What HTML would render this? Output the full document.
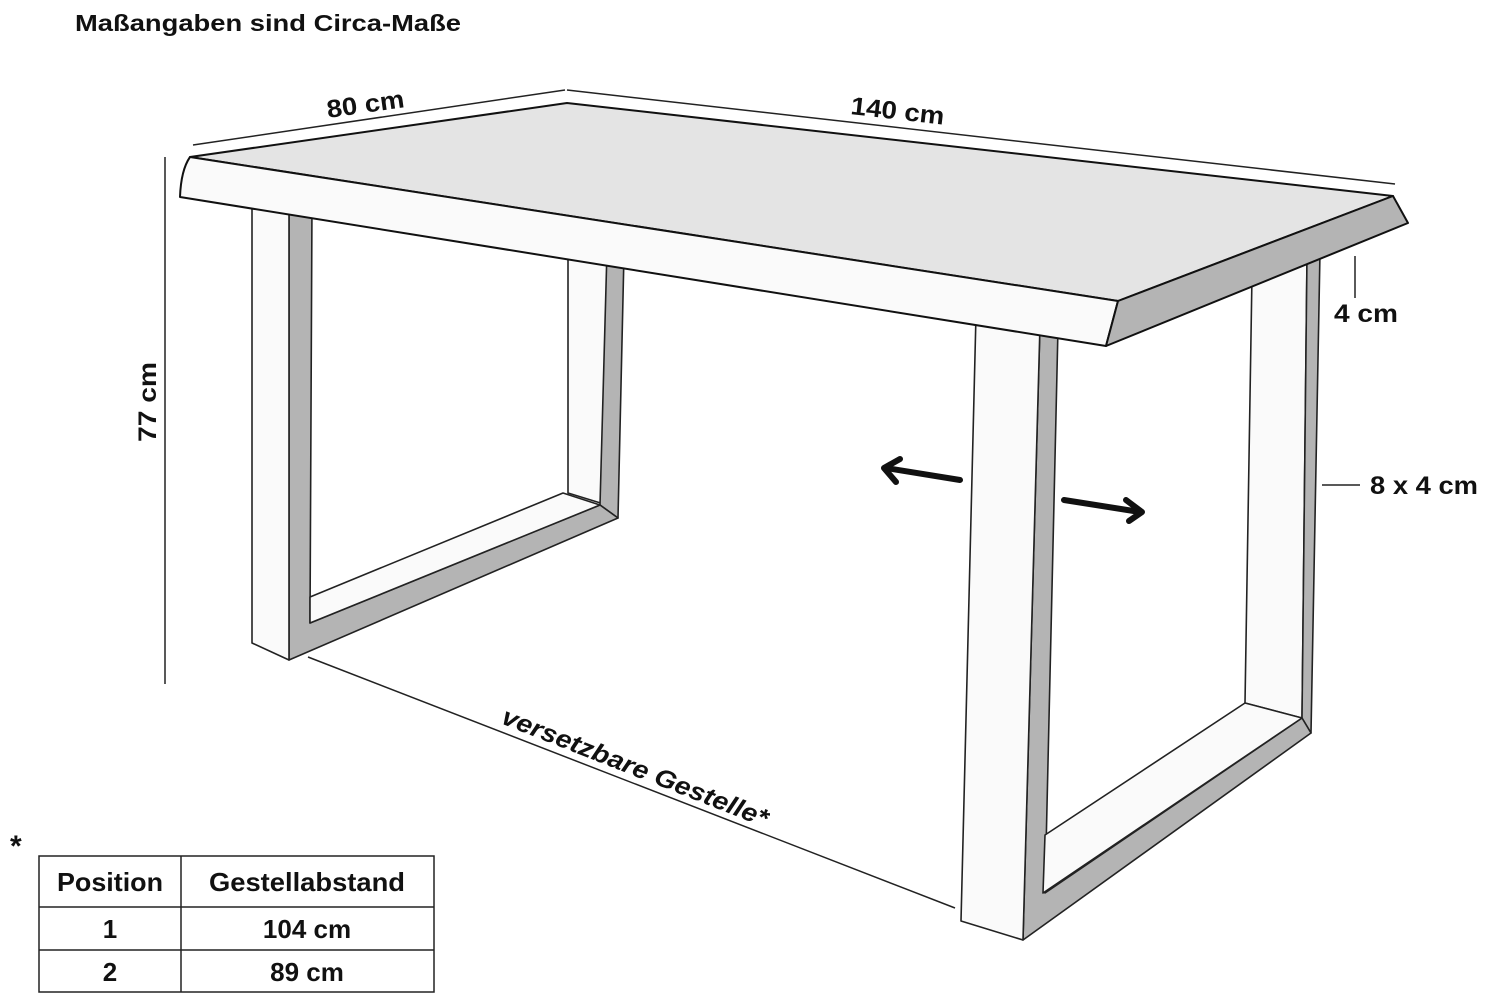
<!DOCTYPE html>
<html><head><meta charset="utf-8"><style>html,body{margin:0;padding:0;background:#fff}svg{display:block}</style></head>
<body>
<svg width="1489" height="1000" viewBox="0 0 1489 1000" xmlns="http://www.w3.org/2000/svg" font-family="Liberation Sans, sans-serif" font-weight="bold" fill="#111">
<rect width="1489" height="1000" fill="#fff"/>
<text x="75" y="31" font-size="23" textLength="386" lengthAdjust="spacingAndGlyphs">Maßangaben sind Circa-Maße</text>

<g stroke="#222" stroke-width="1.5" fill="none">
<line x1="193" y1="145" x2="565" y2="90"/>
<line x1="567" y1="90" x2="1395" y2="184"/>
<line x1="165" y1="157" x2="165" y2="684"/>
<line x1="1355" y1="256" x2="1355" y2="298"/>
<line x1="1322" y1="485" x2="1360" y2="485"/>
<line x1="308" y1="657" x2="955" y2="908"/>
</g>
<text transform="translate(328,118) rotate(-8)" font-size="25" textLength="78" lengthAdjust="spacingAndGlyphs">80 cm</text>
<text transform="translate(850,114) rotate(6.5)" font-size="25" textLength="94" lengthAdjust="spacingAndGlyphs">140 cm</text>
<text transform="translate(156,442) rotate(-90)" font-size="25" textLength="80" lengthAdjust="spacingAndGlyphs">77 cm</text>
<text x="1334" y="322" font-size="25" textLength="64" lengthAdjust="spacingAndGlyphs">4 cm</text>
<text x="1370" y="494" font-size="25" textLength="108" lengthAdjust="spacingAndGlyphs">8 x 4 cm</text>
<text transform="translate(500,723) rotate(21.5)" font-size="25" textLength="284" lengthAdjust="spacingAndGlyphs" font-style="italic">versetzbare Gestelle*</text>

<g stroke="#222" stroke-width="1.6" stroke-linejoin="round">
<polygon points="568,250 607,254 607,505 568,493" fill="#fafafa"/>
<polygon points="607,250 624,254 618,518 600,505" fill="#b4b4b4"/>
<polygon points="289,200 312,203 310,623 600,505 618,518 289,660" fill="#b4b4b4"/>
<polygon points="310,597 563,493 600,505 310,623" fill="#fafafa"/>
<polygon points="252,198 289,200 289,660 252,643" fill="#fafafa"/>
</g>

<g stroke="#222" stroke-width="1.6" stroke-linejoin="round">
<polygon points="1252,275 1307,258 1302,718 1245,703" fill="#fafafa"/>
<polygon points="1307,255 1320,252 1311,733 1302,718" fill="#b4b4b4"/>
<polygon points="1040,325 1058,328 1045,893 1302,718 1311,733 1023,940" fill="#b4b4b4"/>
<polygon points="1045,835 1245,703 1302,718 1043,893" fill="#fafafa"/>
<polygon points="976,315 1040,325 1023,940 961,921" fill="#fafafa"/>
</g>

<g stroke="#111" stroke-width="2" stroke-linejoin="round">
<polygon points="190,157 567,103 1393,196 1118,301" fill="#e4e4e4"/>
<path d="M190,157 L1118,301 L1106,346 L180,197 Q181,170 190,157 Z" fill="#fafafa"/>
<polygon points="1118,301 1393,196 1408,223 1106,346" fill="#b4b4b4"/>
</g>

<g stroke="#111" stroke-width="6" fill="none" stroke-linecap="round" stroke-linejoin="round">
<line x1="960" y1="480" x2="886" y2="468"/>
<polyline points="900,459 884,468 896,482"/>
<line x1="1064" y1="500" x2="1140" y2="512"/>
<polyline points="1126,500 1142,512 1129,521"/>
</g>

<text x="10" y="856" font-size="30">*</text>
<g stroke="#222" stroke-width="1.5" fill="none">
<rect x="39" y="856" width="395" height="136"/>
<line x1="39" y1="907" x2="434" y2="907"/>
<line x1="39" y1="950" x2="434" y2="950"/>
<line x1="181" y1="856" x2="181" y2="992"/>
</g>
<g font-size="26" text-anchor="middle">
<text x="110" y="891" textLength="106" lengthAdjust="spacingAndGlyphs">Position</text>
<text x="307" y="891" textLength="196" lengthAdjust="spacingAndGlyphs">Gestellabstand</text>
<text x="110" y="938">1</text>
<text x="307" y="938">104 cm</text>
<text x="110" y="981">2</text>
<text x="307" y="981">89 cm</text>
</g>
</svg>
</body></html>
